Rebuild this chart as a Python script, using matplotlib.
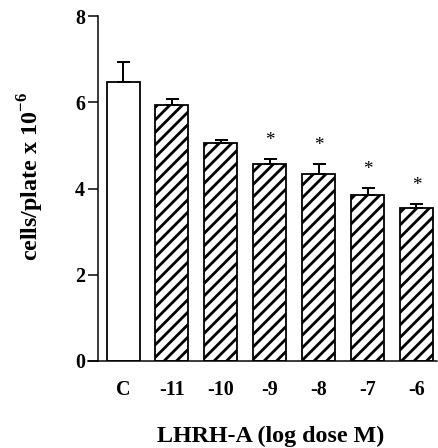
#!/usr/bin/env python3
"""Cells/plate after LHRH-A treatment, bar chart with hatched dose groups."""
import matplotlib
matplotlib.use("Agg")
import matplotlib.pyplot as plt
import numpy as np

LABELS = ["C", "-11", "-10", "-9", "-8", "-7", "-6"]
MEANS = [6.46, 5.94, 5.06, 4.57, 4.33, 3.86, 3.54]
SEM = [0.48, 0.14, 0.07, 0.12, 0.24, 0.15, 0.11]
SIGNIF = [False, False, False, True, True, True, True]

W, H, DPI = 438, 448, 75


def px(v):
    # pixels -> points at this dpi
    return v * 72.0 / DPI


plt.rcParams["font.family"] = ["Liberation Serif", "DejaVu Serif"]
plt.rcParams["font.weight"] = "bold"
plt.rcParams["mathtext.fontset"] = "custom"
plt.rcParams["mathtext.rm"] = "Liberation Serif:bold"
plt.rcParams["mathtext.bf"] = "Liberation Serif:bold"
# '//' at 75 dpi -> diagonal lines ~12.5 px apart, like the scan
plt.rcParams["hatch.linewidth"] = px(2.8)

fig = plt.figure(figsize=(W / DPI, H / DPI), dpi=DPI)
ax = fig.add_axes([88 / W, 1 - 361 / H, (437 - 88) / W, (361 - 16) / H])

x = np.arange(len(LABELS))
for i in range(len(LABELS)):
    ax.bar(
        x[i], MEANS[i], width=0.675, color="white", edgecolor="black",
        linewidth=px(1.8), hatch=None if i == 0 else "//", zorder=2,
    )
ax.errorbar(
    x, MEANS, yerr=[np.zeros(len(SEM)), SEM], fmt="none", ecolor="black",
    elinewidth=px(2), capsize=px(6.5), capthick=px(2), zorder=3,
)
for i in range(len(LABELS)):
    if SIGNIF[i]:
        ax.text(x[i], MEANS[i] + SEM[i] + 0.42, "*", ha="center", va="center",
                fontsize=px(19), fontweight="normal")

ax.set_xlim(-0.716, 6.42)
ax.set_ylim(0, 8)
ax.set_yticks([0, 2, 4, 6, 8])
ax.tick_params(axis="y", length=px(10), width=px(1.5), pad=px(3),
               labelsize=px(20))
ax.set_xticks(x)
ax.set_xticklabels(LABELS)
ax.tick_params(axis="x", length=0, pad=px(19), labelsize=px(20))

for s in ["top", "right"]:
    ax.spines[s].set_visible(False)
ax.spines["left"].set_position(("axes", 10 / 349))
ax.spines["left"].set_linewidth(px(1.5))
ax.spines["bottom"].set_linewidth(px(1.5))

fig.text(271 / W, 1 - 442 / H, "LHRH-A (log dose M)", ha="center",
         va="baseline", fontsize=px(24))
fig.text(31 / W, 1 - 176 / H, r"cells/plate x 10$^{\mathbf{-6}}$", ha="center",
         va="center", rotation=90, fontsize=px(24))

fig.savefig("out.png", dpi=DPI)
